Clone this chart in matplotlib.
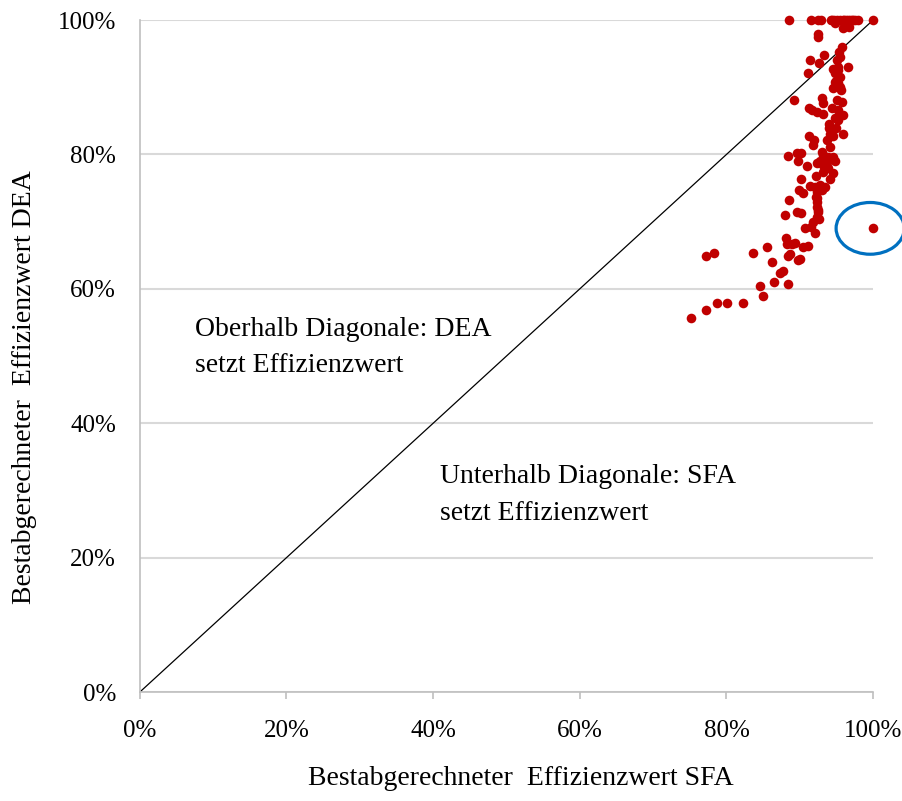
import matplotlib
matplotlib.use("Agg")
import matplotlib.pyplot as plt
from matplotlib.patches import Ellipse
from matplotlib.ticker import PercentFormatter

plt.rcParams['font.family'] = ['Liberation Serif', 'DejaVu Serif']

# SFA efficiency (%) and DEA efficiency (%)
sfa = [88.5, 91.5, 92.5, 92.9, 94.3, 94.4, 94.7, 95.1, 95.5, 95.9, 96.0, 96.3, 96.6,
       96.9, 97.1, 97.3, 97.5, 98.0, 100.0,
       94.8, 95.9, 96.7, 92.5, 92.5,
       95.8, 95.4, 95.5, 95.1, 93.3, 91.4, 92.6, 96.6, 91.1, 94.5, 95.2, 94.8, 95.5,
       94.8, 95.2, 95.6, 94.5,
       89.2, 93.0, 93.2, 91.3, 91.7, 92.4, 93.2, 94.4, 95.1, 95.8, 95.2, 95.5, 95.9,
       94.8, 95.2, 94.0, 94.1, 94.5, 95.9, 91.3, 92.0, 93.7, 91.8, 94.1, 93.0, 93.2,
       88.4, 89.6, 90.2, 89.8, 92.8, 93.9, 94.5, 94.8, 91.0,
       92.4, 93.2, 93.7, 93.9, 93.2, 94.5, 94.1, 90.2, 91.4, 92.1, 92.8, 93.5, 92.4,
       93.0, 89.9, 90.5, 92.2, 92.4, 88.5, 89.6, 90.2, 92.4, 92.5, 88.0, 92.4, 91.8,
       90.7, 91.5, 92.1, 88.1, 100.0,
       88.3, 88.9, 89.4, 90.5, 91.1, 85.5, 83.6, 78.3, 77.2, 88.7, 88.4, 89.8, 90.0,
       86.2, 87.7, 87.3, 86.5, 88.4, 84.6, 85.0, 82.3, 80.1, 78.7, 77.2, 75.2,
       95.2, 95.0, 95.5, 92.4, 92.5, 92.6, 92.2, 94.0, 95.0]
dea = [100.0, 100.0, 100.0, 100.0, 100.0, 100.0, 100.0, 100.0, 100.0, 100.0, 100.0,
       100.0, 100.0, 100.0, 100.0, 100.0, 100.0, 100.0, 100.0,
       99.6, 98.8, 99.0, 97.9, 97.5,
       96.0, 95.2, 94.5, 94.0, 94.8, 94.0, 93.6, 93.0, 92.1, 92.7, 92.6, 92.1, 91.5,
       90.8, 90.6, 89.6, 89.9,
       88.1, 88.4, 87.6, 86.9, 86.6, 86.3, 86.0, 86.9, 88.1, 87.8, 86.6, 85.9, 85.9,
       85.4, 85.1, 83.9, 83.0, 82.7, 83.0, 82.7, 82.1, 82.1, 81.4, 81.1, 80.4, 79.9,
       79.8, 80.2, 80.2, 79.0, 79.0, 79.6, 79.6, 79.0, 78.3,
       78.7, 78.4, 78.9, 78.0, 77.4, 77.2, 76.3, 76.3, 75.3, 75.1, 75.4, 75.1, 74.4,
       74.7, 74.7, 74.3, 73.7, 72.9, 73.2, 71.4, 71.3, 72.2, 71.4, 71.0, 70.7, 69.9,
       69.0, 69.2, 68.3, 67.6, 69.0,
       66.7, 66.7, 66.8, 66.2, 66.4, 66.2, 65.3, 65.3, 64.9, 65.2, 64.9, 64.3, 64.4,
       64.0, 62.6, 62.4, 61.0, 60.7, 60.4, 58.9, 57.9, 57.9, 57.9, 56.8, 55.7,
       93.0, 91.0, 90.0, 73.5, 71.8, 70.4, 76.8, 84.5, 84.0]

ticks = [0, 20, 40, 60, 80, 100]

fig = plt.figure(figsize=(9.02, 8.01), dpi=100)
ax = fig.add_axes([0.155, 0.136, 0.813, 0.839])

ax.set_xlim(0, 100)
ax.set_ylim(0, 100)
ax.set_xticks(ticks)
ax.set_yticks(ticks)
ax.xaxis.set_major_formatter(PercentFormatter(decimals=0))
ax.yaxis.set_major_formatter(PercentFormatter(decimals=0))

ax.grid(axis='y', color='#d9d9d9', linewidth=1.5, zorder=0)
for s in ['top', 'right']:
    ax.spines[s].set_visible(False)
for s in ['left', 'bottom']:
    ax.spines[s].set_color('#bfbfbf')
    ax.spines[s].set_linewidth(1.2)
ax.tick_params(axis='x', length=5, width=1.2, color='#bfbfbf', pad=15, labelsize=18)
ax.tick_params(axis='y', length=0, pad=17, labelsize=18)

ax.plot([0, 100], [0, 100], color='black', linewidth=0.9, zorder=2)
ax.scatter(sfa, dea, s=48, color='#C00000', zorder=3, linewidths=0, clip_on=False)

ax.text(7.5, 55.8, 'Oberhalb Diagonale: DEA\nsetzt Effizienzwert', fontsize=20,
        va='top', ha='left', linespacing=1.6)
ax.text(40.9, 33.9, 'Unterhalb Diagonale: SFA\nsetzt Effizienzwert', fontsize=20,
        va='top', ha='left', linespacing=1.6)

ell = Ellipse((99.6, 69.0), 9.3, 7.7, fill=False, edgecolor='#0070C0', linewidth=2.3,
              clip_on=False, zorder=4)
ax.add_patch(ell)

ax.set_xlabel('Bestabgerechneter  Effizienzwert SFA', fontsize=20)
ax.set_ylabel('Bestabgerechneter  Effizienzwert DEA', fontsize=20)
ax.xaxis.set_label_coords(0.52, -0.11)
ax.yaxis.set_label_coords(-0.14, 0.454)

fig.savefig('out.png', dpi=100)
